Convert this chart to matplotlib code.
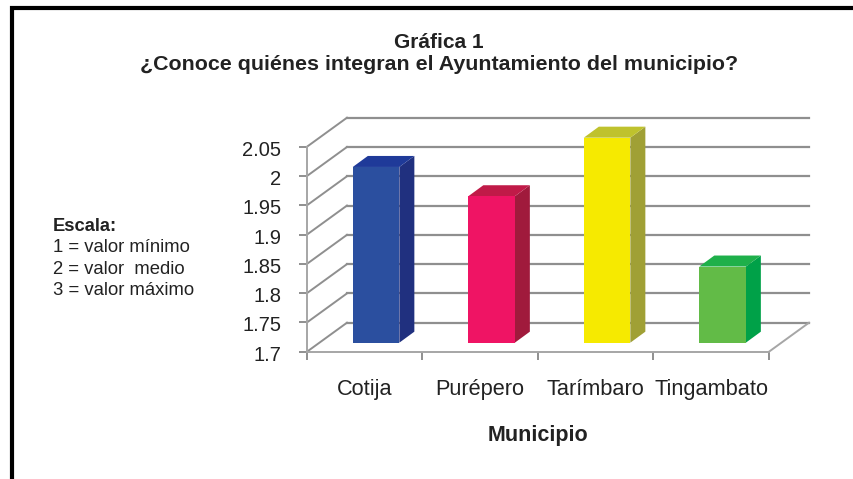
import matplotlib

matplotlib.use("Agg")
import matplotlib.pyplot as plt
from matplotlib.lines import Line2D
from matplotlib.patches import Polygon
from matplotlib.transforms import ScaledTranslation

plt.rcParams["font.family"] = ["Liberation Sans", "DejaVu Sans"]

W, H = 854, 479

municipios = ["Cotija", "Purépero", "Tarímbaro", "Tingambato"]
valores = [2.0, 1.95, 2.05, 1.83]
y_ticks = [1.7, 1.75, 1.8, 1.85, 1.9, 1.95, 2.0, 2.05]
y_labels = ["1.7", "1.75", "1.8", "1.85", "1.9", "1.95", "2", "2.05"]
escala = ["1 = valor mínimo", "2 = valor  medio", "3 = valor máximo"]

frente = ["#2b4f9f", "#ef1464", "#f6ea00", "#62bb47"]
lado = ["#20307f", "#a01a3c", "#a0a035", "#00a148"]
tapa = ["#1f3a99", "#c01a48", "#bfc22d", "#1eb04a"]

GRID = "#8f8f8f"
TEXT = "#222222"

# fake 3d offsets, in data units
WALL_DX, WALL_DY = 0.346, 0.0495
DEPTH_DX, DEPTH_DY = 0.13, 0.0188
BAR_W = 0.403
BAR_DX, BAR_DY = 0.098, 0.0154


def px_x(x):
    return x / W


def px_y(y):
    return 1 - y / H


fig = plt.figure(figsize=(W / 100, H / 100), dpi=100)
ax = fig.add_axes([px_x(307), px_y(351.7), (769 - 307) / W, (351.7 - 146.7) / H])
ax.set_xlim(0, 4)
ax.set_ylim(1.7, 2.05)
ax.patch.set_visible(False)
for name in ["top", "right"]:
    ax.spines[name].set_visible(False)
for name in ["left", "bottom"]:
    ax.spines[name].set_color("#a6a6a6")
    ax.spines[name].set_linewidth(1.4)

# side wall diagonals and back wall lines
for v in y_ticks:
    ax.plot([0, WALL_DX], [v, v + WALL_DY], color=GRID, lw=1.4, clip_on=False, zorder=1)
    ax.plot([WALL_DX, 4 + WALL_DX], [v + WALL_DY, v + WALL_DY], color=GRID, lw=1.6,
            clip_on=False, zorder=1)
ax.plot([4, 4 + WALL_DX], [1.7, 1.7 + WALL_DY], color="#a6a6a6", lw=1.4, clip_on=False, zorder=1)

for i, v in enumerate(valores):
    x0 = i + 0.5 + BAR_DX - BAR_W / 2
    x1 = x0 + BAR_W
    y0 = 1.7 + BAR_DY
    top = v + BAR_DY
    ax.add_patch(Polygon([(x1, y0), (x1 + DEPTH_DX, y0 + DEPTH_DY),
                          (x1 + DEPTH_DX, top + DEPTH_DY), (x1, top)],
                         fc=lado[i], ec="none", clip_on=False, zorder=3))
    ax.add_patch(Polygon([(x0, top), (x1, top), (x1 + DEPTH_DX, top + DEPTH_DY),
                          (x0 + DEPTH_DX, top + DEPTH_DY)],
                         fc=tapa[i], ec="none", clip_on=False, zorder=3))
    ax.add_patch(Polygon([(x0, y0), (x1, y0), (x1, top), (x0, top)],
                         fc=frente[i], ec="none", clip_on=False, zorder=4))

ax.set_yticks(y_ticks)
ax.set_yticklabels(y_labels, fontsize=14.5, color=TEXT)
ax.set_xticks(range(5))
ax.set_xticklabels([])
ax.set_xticks([i + 0.5 for i in range(4)], municipios, minor=True, fontsize=15.7, color=TEXT)
ax.tick_params(axis="x", which="minor", length=0, pad=20)
ax.tick_params(axis="both", which="major", color="#8f8f8f", width=1.4, length=5.5)
ax.tick_params(axis="y", pad=13)

# y labels sit a little under their ticks
shift = ScaledTranslation(0, -1.5 / 100, fig.dpi_scale_trans)
for label in ax.get_yticklabels():
    label.set_transform(label.get_transform() + shift)

fig.text(px_x(439), px_y(43), "Gráfica 1", ha="center", va="center", fontsize=15, fontweight="bold",
         color=TEXT)
fig.text(px_x(439), px_y(65), "¿Conoce quiénes integran el Ayuntamiento del municipio?",
         ha="center", va="center", fontsize=15.4, fontweight="bold", color=TEXT)
fig.text(px_x(537.5), px_y(436), "Municipio", ha="center", va="center", fontsize=15.5,
         fontweight="bold", color=TEXT)
fig.text(px_x(53), px_y(231), "Escala:", ha="left", va="baseline", fontsize=13.2, fontweight="bold",
         color=TEXT)
for texto, y in zip(escala, [252, 273.5, 295]):
    fig.text(px_x(53), px_y(y), texto, ha="left", va="baseline", fontsize=13.3, color=TEXT)

# black frame of the original picture
fig.add_artist(Line2D([px_x(12.5), px_x(12.5), 1], [0, px_y(8), px_y(8)], color="black", lw=3,
                      solid_joinstyle="miter"))

fig.savefig("out.png", dpi=100)
